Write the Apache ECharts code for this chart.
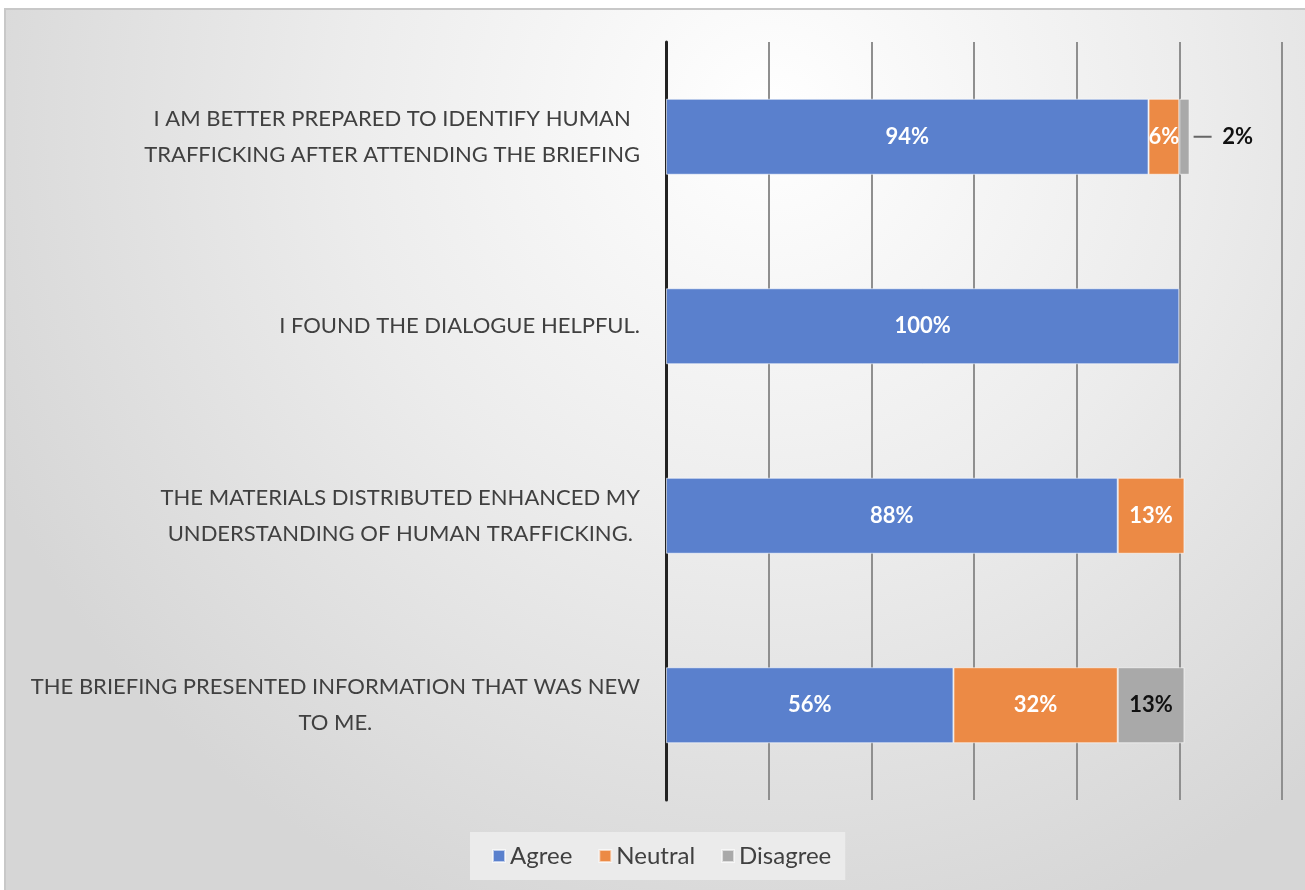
<!DOCTYPE html>
<html>
<head>
<meta charset="utf-8">
<script src="https://cdn.jsdelivr.net/npm/echarts@6/dist/echarts.min.js"></script>
<style>
html,body{margin:0;padding:0;background:#fff;}
#c{width:1305px;height:890px;}
</style>
</head>
<body>
<div id="c"></div>
<script>
const categories = [
  'THE BRIEFING PRESENTED INFORMATION THAT WAS NEW\nTO ME.',
  'THE MATERIALS DISTRIBUTED ENHANCED MY\nUNDERSTANDING OF HUMAN TRAFFICKING.',
  'I FOUND THE DIALOGUE HELPFUL.',
  'I AM BETTER PREPARED TO IDENTIFY HUMAN\nTRAFFICKING AFTER ATTENDING THE BRIEFING'
];
const agree = [56, 88, 100, 94];
const neutral = [32, 13, null, 6];
const disagree = [13, null, null, 2];
const seriesNames = ['Agree', 'Neutral', 'Disagree'];
const xTicks = [0, 20, 40, 60, 80, 100, 120];

const chart = echarts.init(document.getElementById('c'));
const labelFont = {fontFamily: 'Lato, "Open Sans", sans-serif', fontWeight: 'bold', fontSize: 22};

function makeData(arr, outsideIdx) {
  return arr.map((v, i) => {
    if (i === outsideIdx) {
      return {
        value: v,
        label: {
          position: 'right', distance: 4, color: '#111',
          formatter: '{l|}  {t|' + v + '%}',
          rich: {
            l: {width: 18, height: 2, backgroundColor: '#666'},
            t: Object.assign({color: '#111'}, labelFont)
          }
        }
      };
    }
    return v;
  });
}

chart.setOption({
  animation: false,
  graphic: [{
    type: 'rect', z: -10, silent: true,
    shape: {x: 5, y: 9, width: 1320, height: 900},
    style: {
      fill: new echarts.graphic.RadialGradient(0.58, 0.12, 0.95, [
        {offset: 0, color: '#ffffff'},
        {offset: 0.5, color: '#ececec'},
        {offset: 1, color: '#d6d6d6'}
      ]),
      stroke: '#c8c8c8', lineWidth: 2
    }
  }],
  grid: {left: 666, right: 23, top: 42, bottom: 90, containLabel: false},
  legend: {
    data: seriesNames,
    left: 470, bottom: 10,
    backgroundColor: '#ebebeb',
    padding: [12, 14, 12, 22],
    itemWidth: 12, itemHeight: 12, itemGap: 26,
    icon: 'rect',
    textStyle: {fontFamily: 'Lato, "Open Sans", sans-serif', fontSize: 24, color: '#404040', padding: [0, 0, 0, 0]}
  },
  xAxis: {
    type: 'value', min: xTicks[0], max: xTicks[xTicks.length - 1], interval: 20,
    axisLabel: {show: false}, axisLine: {show: false}, axisTick: {show: false},
    splitLine: {show: true, lineStyle: {color: '#8f8f8f', width: 2}}
  },
  yAxis: {
    type: 'category', data: categories,
    axisTick: {show: false},
    axisLine: {show: true, lineStyle: {color: '#222', width: 3}},
    axisLabel: {
      margin: 26,
      formatter: v => v.split('\n').map(l => '{c|' + l + '}').join('\n'),
      rich: {
        c: {align: 'center', fontFamily: 'Lato, "Open Sans", sans-serif', fontSize: 22, color: '#404040', lineHeight: 36}
      }
    }
  },
  series: [
    {
      name: 'Agree', type: 'bar', stack: 's', barWidth: 76,
      itemStyle: {color: '#5a80cd', borderColor: 'rgba(255,255,255,0.6)', borderWidth: 1},
      label: Object.assign({show: true, position: 'inside', color: '#fff', formatter: p => p.value + '%'}, labelFont),
      data: makeData(agree, -1)
    },
    {
      name: 'Neutral', type: 'bar', stack: 's',
      itemStyle: {color: '#ec8a45', borderColor: 'rgba(255,255,255,0.6)', borderWidth: 1},
      label: Object.assign({show: true, position: 'inside', color: '#fff', formatter: p => p.value == null ? '' : p.value + '%'}, labelFont),
      data: makeData(neutral, -1)
    },
    {
      name: 'Disagree', type: 'bar', stack: 's',
      itemStyle: {color: '#a9a9a9', borderColor: 'rgba(255,255,255,0.6)', borderWidth: 1},
      label: Object.assign({show: true, position: 'inside', color: '#111', formatter: p => p.value == null ? '' : p.value + '%'}, labelFont),
      data: makeData(disagree, 3)
    }
  ]
});
</script>
</body>
</html>
